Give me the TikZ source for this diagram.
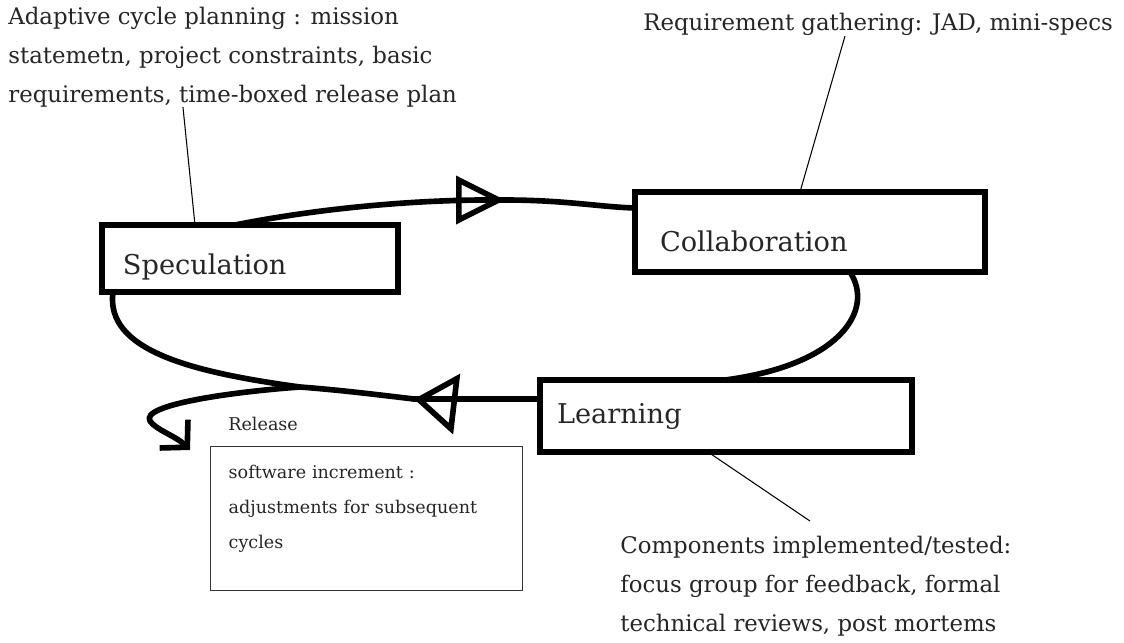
\documentclass[tikz,border=0pt]{standalone}
\usepackage{fontspec}
\setmainfont{DejaVu Serif}
\usetikzlibrary{arrows.meta,decorations.markings}

\begin{document}
\begin{tikzpicture}[x=0.02cm, y=-0.02cm,
    stagebox/.style ={rectangle, draw=black, line width=3pt, fill=white,
      anchor=north west, outer sep=0pt, inner xsep=0.42cm, align=left,
      text depth=0.1cm, text=black!85, font=\fontsize{15.5}{19}\selectfont},
    note/.style ={anchor=north west, inner sep=0pt, align=left,
      text=black!85, font=\fontsize{13}{22}\selectfont},
    smallnote/.style ={anchor=north west, inner sep=0pt, align=left,
      text=black!85, font=\fontsize{10}{20}\selectfont},
    flow/.style ={draw, line width=3.2pt, line cap=round, line join=round},
    opentip/.style 2 args={postaction=decorate, decoration={markings,
      mark=at position 0 with {\arrow{Triangle[open, length=#1, width=#2]}}}},
    leader/.style ={draw, line width=0.6pt}]
    \path[use as bounding box, fill=white] (0,0) rectangle (1124,642);

    % notes and the three stages of the cycle
    \node[note] (plan) at (8,7) {Adaptive cycle planning : mission\\ statemetn, project constraints, basic\\ requirements, time-boxed release plan};
    \node[note] (req) at (643,13) {Requirement gathering: JAD, mini-specs};
    \node[stagebox, text width=5.08cm, text height=0.73cm, minimum height=1.34cm] (spec) at (102,225) {Speculation};
    \node[stagebox, inner xsep=0.5cm, text width=6cm, text height=0.9cm, minimum height=1.6cm] (collab) at (635,192) {Collaboration};
    \node[stagebox, inner xsep=0.34cm, text width=6.76cm, text height=0.42cm, minimum height=1.44cm] (learn) at (540,380) {Learning};
    \node[smallnote] (rel) at (228,417) {Release};
    \node[smallnote, draw=black!80, line width=0.8pt, inner xsep=0.36cm, inner ysep=0.36cm,
      text width=5.52cm, text height=0.27cm, text depth=1.89cm] (relbox) at (210,446)
      {software increment :\\ adjustments for subsequent\\ cycles};
    \node[note] (comp) at (620,536) {Components implemented/tested:\\ focus group for feedback, formal\\ technical reviews, post mortems};

    \coordinate (toptip) at (505,200);
    \coordinate (backtip) at (414,399);
    \coordinate (fork) at (300,387);

    % speculation -> collaboration
    \draw[flow] ([xshift=2.66cm]spec.north west) .. controls (320,208) and (420,199) .. (toptip);
    \draw[flow, opentip={0.98cm}{0.95cm}] (toptip) .. controls (565,200) and (600,207) .. (collab.west |- 0,208);
    % collaboration -> learning
    \draw[flow] ([xshift=-2.7cm]collab.south east) .. controls (875,310) and (840,365) .. ([xshift=3.7cm]learn.north west);
    % learning -> speculation
    \draw[flow, opentip={0.86cm}{1.2cm}] (backtip) .. controls (380,395) and (340,390) .. (fork) .. controls (190,372) and (105,350) .. ([xshift=0.22cm]spec.south west);
    \draw[flow] (learn.west |- backtip) -- (backtip);
    % release hook
    \draw[flow, -{Straight Barb[length=0.38cm, width=0.8cm]}] (fork) .. controls (230,392) and (140,405) .. (150,421) .. controls (156,430) and (176,436) .. (190,450);

    % leader lines
    \draw[leader] ([xshift=3.5cm]plan.south west) -- ([xshift=1.86cm]spec.north west);
    \draw[leader] ([xshift=4.04cm]req.south west) -- ([xshift=3.3cm]collab.north west);
    \draw[leader] ([xshift=3.36cm]learn.south west) -- ([shift={(3.8cm,0.3cm)}]comp.north west);
\end{tikzpicture}
\end{document}
